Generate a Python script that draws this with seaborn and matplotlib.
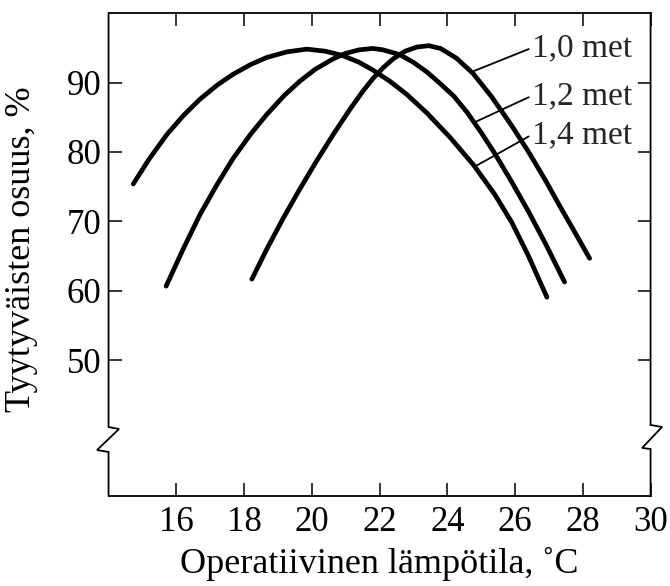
import numpy as np
import pandas as pd
import seaborn as sns
import matplotlib
matplotlib.use("Agg")
import matplotlib.pyplot as plt
from matplotlib.lines import Line2D

# ---- data ----
met_labels = ["1,0 met", "1,2 met", "1,4 met"]

temp_10 = [18.23, 18.7, 19.16, 19.65, 20.14, 20.63, 21.12, 21.5, 21.81, 22.1, 22.4, 22.75, 23.1, 23.45, 23.8, 24.27, 24.76, 25.3, 25.9, 26.4, 26.9, 27.3, 27.7, 28.2]
share_10 = [61.7, 66.3, 70.5, 74.7, 78.7, 82.5, 86.1, 88.7, 90.6, 92.1, 93.4, 94.5, 95.1, 95.3, 94.9, 93.5, 91.3, 88.0, 83.8, 80.0, 75.9, 72.4, 69.0, 64.7]

temp_12 = [15.70, 16.2, 16.70, 17.2, 17.68, 18.2, 18.67, 19.2, 19.65, 20.1, 20.63, 21.0, 21.4, 21.8, 22.1, 22.6, 23.0, 23.4, 23.8, 24.2, 24.6, 25.0, 25.4, 25.9, 26.4, 26.9, 27.46]
share_12 = [60.7, 66.0, 71.0, 75.3, 79.1, 82.6, 85.4, 88.2, 90.2, 91.9, 93.4, 94.2, 94.7, 94.9, 94.7, 94.0, 92.9, 91.5, 89.8, 88.0, 85.6, 82.8, 79.8, 75.7, 71.4, 66.8, 61.3]

temp_14 = [14.73, 15.2, 15.72, 16.2, 16.7, 17.2, 17.68, 18.2, 18.67, 19.26, 19.85, 20.4, 20.9, 21.4, 21.8, 22.3, 22.8, 23.4, 24.1, 24.78, 25.4, 25.9, 26.4, 26.94]
share_14 = [75.4, 79.0, 82.5, 85.2, 87.6, 89.6, 91.2, 92.6, 93.6, 94.4, 94.8, 94.5, 93.9, 92.9, 91.8, 90.2, 88.3, 85.6, 82.0, 78.1, 73.9, 69.9, 65.0, 59.1]

x_ticks = [16, 18, 20, 22, 24, 26, 28, 30]
y_ticks = [50, 60, 70, 80, 90]

x_label = "Operatiivinen lämpötila, ˚C"
y_label = "Tyytyväisten osuus, %"

# label anchor points on curves and text positions
label_xy = [(24.76, 91.6), (24.86, 84.4), (24.81, 77.9)]
label_text_xy = [(26.5, 95.0), (26.5, 88.1), (26.5, 82.5)]

# ---- build table ----
frames = []
for lab, t, s in zip(met_labels, [temp_10, temp_12, temp_14], [share_10, share_12, share_14]):
    frames.append(pd.DataFrame({"temp": t, "share": s, "met": lab}))
df = pd.concat(frames, ignore_index=True)

sns.set_theme(style="ticks")
plt.rcParams["font.family"] = ["Liberation Serif", "DejaVu Serif"]

fig = plt.figure(figsize=(6.7, 5.86), dpi=100)
ax = fig.add_axes([0.162, 0.1536, 0.809, 0.8242])

sns.lineplot(data=df, x="temp", y="share", hue="met", units="met", estimator=None,
             sort=False, palette=["black"] * 3, legend=False, lw=3.4,
             solid_capstyle="round", solid_joinstyle="round", ax=ax)

ax.set_xlim(14, 30)
ax.set_ylim(30.5, 100)
ax.set_xticks(x_ticks)
ax.set_yticks(y_ticks)
ax.tick_params(direction="in", length=9.5, width=1.1, top=True, right=True,
               labelsize=25, color="black", labelcolor="black")
ax.tick_params(axis="x", pad=7)
ax.tick_params(axis="y", pad=5)
ax.set_xlabel(x_label, fontsize=26, color="black")
ax.set_ylabel(y_label, fontsize=26, color="black")
ax.xaxis.set_label_coords(0.5, -0.105)
ax.yaxis.set_label_coords(-0.13, 0.51)

for sp in ["top", "bottom"]:
    ax.spines[sp].set_linewidth(1.3)
    ax.spines[sp].set_color("black")
ax.spines["left"].set_visible(False)
ax.spines["right"].set_visible(False)

# side spines with break marks
left_x = [0, 0, 0.0194, -0.0212, 0, 0]
left_y = [1, 0.1429, 0.1387, 0.0952, 0.0911, 0]
right_x = [1, 1, 1.0212, 0.9843, 1, 1]
right_y = [1, 0.147, 0.1429, 0.0994, 0.0973, 0]
for xs, ys in [(left_x, left_y), (right_x, right_y)]:
    ax.add_line(Line2D(xs, ys, transform=ax.transAxes, color="black", lw=1.3,
                       clip_on=False, solid_joinstyle="miter"))

for lab, xy, txy in zip(met_labels, label_xy, label_text_xy):
    ax.annotate(lab, xy=xy, xytext=txy, fontsize=24, va="center", ha="left",
                arrowprops=dict(arrowstyle="-", lw=1.3, color="black",
                                shrinkA=0, shrinkB=0, relpos=(0, 0.5)))

fig.savefig("out.png", dpi=100, facecolor="white")
